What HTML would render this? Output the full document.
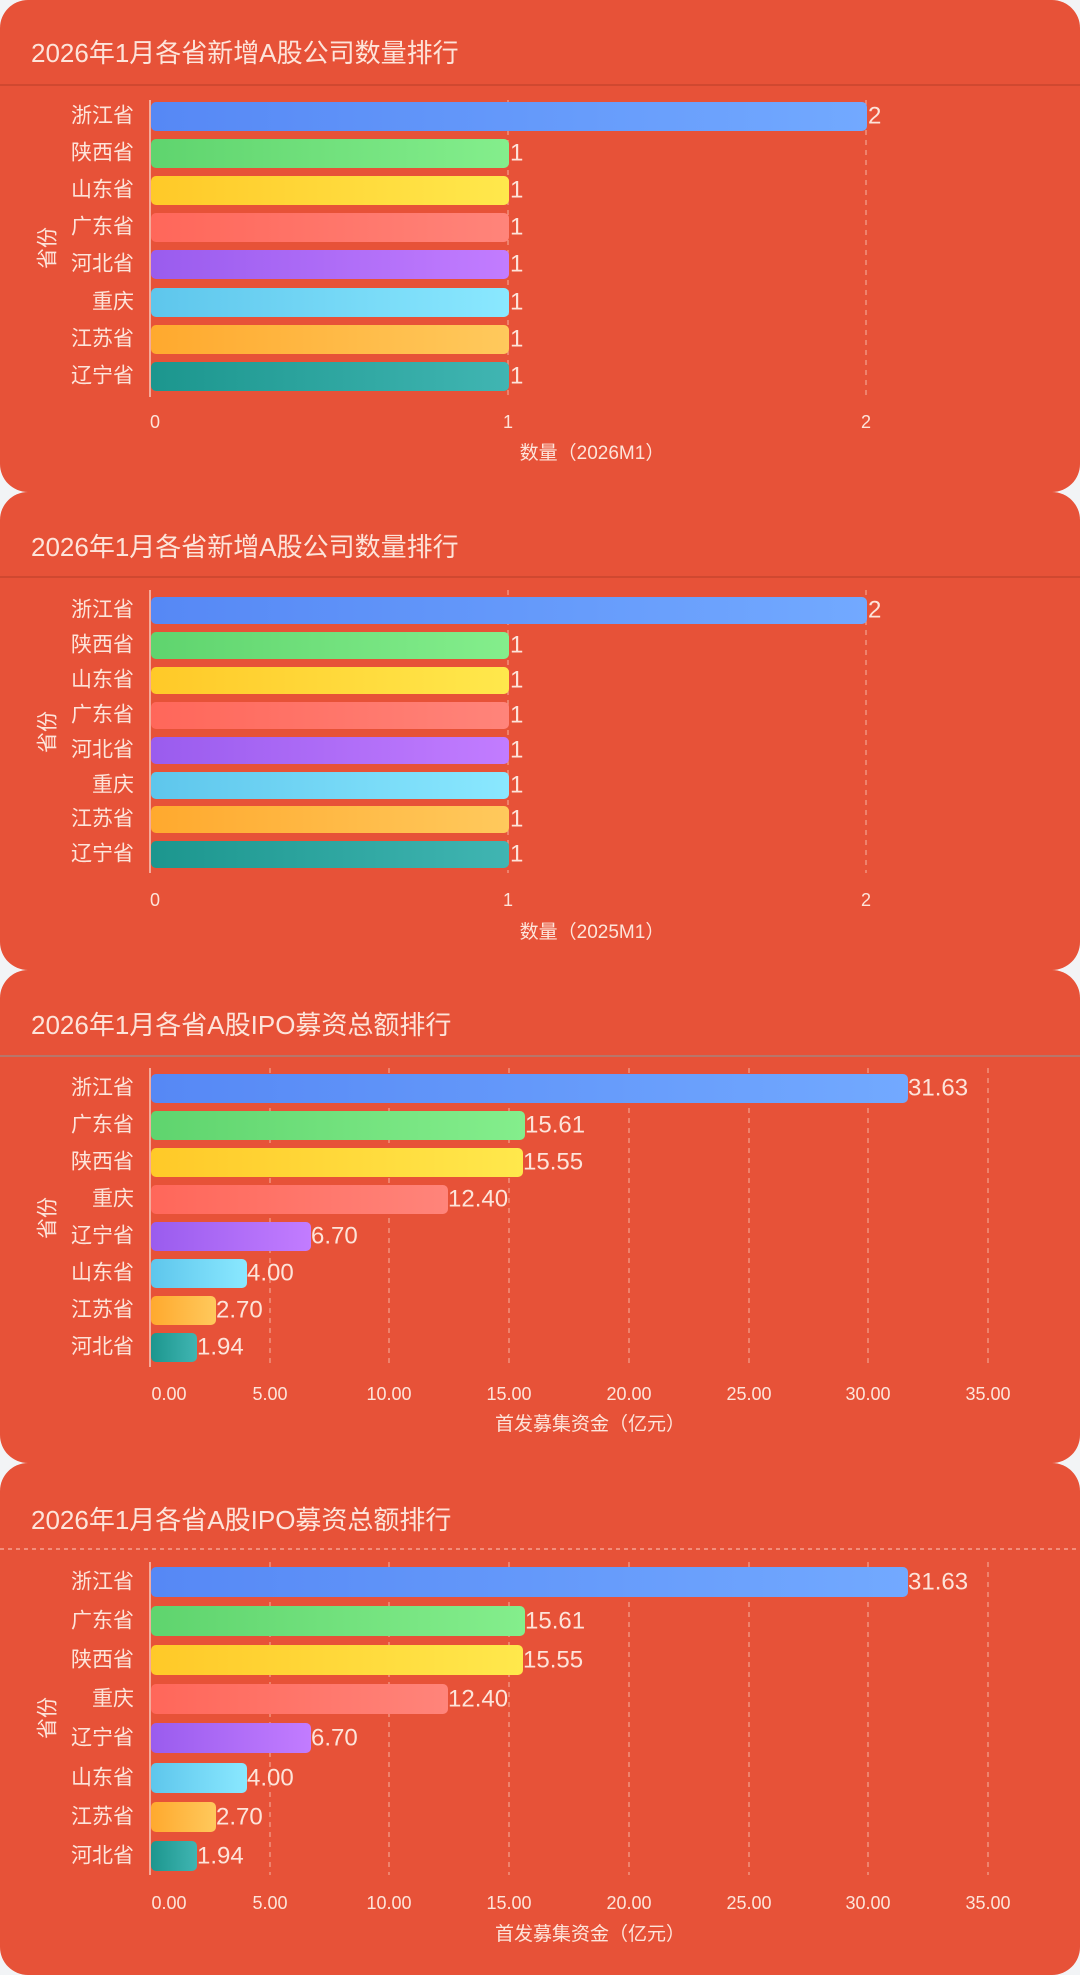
<!DOCTYPE html>
<html><head><meta charset="utf-8"><style>
html,body{margin:0;padding:0;background:#f2f4f6;}
svg{display:block}
text{font-family:"Liberation Sans","Noto Sans CJK SC",sans-serif;fill:#fde4da;}
.t{font-size:26px}
.c{font-size:21px;text-anchor:end;dominant-baseline:central}
.v{font-size:24px;dominant-baseline:central}
.k{font-size:18px;text-anchor:middle}
.n{font-size:19px;text-anchor:middle}
.g{stroke:rgba(255,225,215,0.55);stroke-width:1.2;stroke-dasharray:5 5}
.ax{stroke:rgba(255,230,220,0.8);stroke-width:1.5}
</style></head><body>
<svg width="1080" height="1975" viewBox="0 0 1080 1975" xmlns="http://www.w3.org/2000/svg">
<defs>
<linearGradient id="b1"><stop offset="0" stop-color="#5688f5"/><stop offset="1" stop-color="#72a9ff"/></linearGradient>
<linearGradient id="b2"><stop offset="0" stop-color="#5fd46e"/><stop offset="1" stop-color="#84ee8c"/></linearGradient>
<linearGradient id="b3"><stop offset="0" stop-color="#ffc928"/><stop offset="1" stop-color="#ffe84c"/></linearGradient>
<linearGradient id="b4"><stop offset="0" stop-color="#ff675a"/><stop offset="1" stop-color="#ff847a"/></linearGradient>
<linearGradient id="b5"><stop offset="0" stop-color="#9a5cee"/><stop offset="1" stop-color="#c27cff"/></linearGradient>
<linearGradient id="b6"><stop offset="0" stop-color="#5ec6ec"/><stop offset="1" stop-color="#8ae8ff"/></linearGradient>
<linearGradient id="b7"><stop offset="0" stop-color="#ffa92e"/><stop offset="1" stop-color="#ffc95c"/></linearGradient>
<linearGradient id="b8"><stop offset="0" stop-color="#1c968e"/><stop offset="1" stop-color="#40b5b2"/></linearGradient>
</defs>
<rect x="0" y="0" width="1080" height="1975" fill="#f2f4f6"/>
<!-- panels -->
<rect x="0" y="0" width="1080" height="492" rx="28" fill="#e75238"/>
<rect x="0" y="492" width="1080" height="478" rx="28" fill="#e75238"/>
<rect x="0" y="970" width="1080" height="493" rx="28" fill="#e75238"/>
<rect x="0" y="1463" width="1080" height="512" rx="28" fill="#e75238"/>

<!-- ===== Panel 1 ===== -->
<text class="t" x="31" y="62">2026年1月各省新增A股公司数量排行</text>
<line x1="0" y1="85" x2="1080" y2="85" stroke="#c9442e" stroke-width="1.5"/>
<line class="g" x1="508" y1="100" x2="508" y2="397"/>
<line class="g" x1="866" y1="100" x2="866" y2="397"/>
<line class="ax" x1="150" y1="100" x2="150" y2="397"/>
<rect x="151" y="102" width="716" height="29" rx="5" fill="url(#b1)"/>
<rect x="151" y="139" width="358" height="29" rx="5" fill="url(#b2)"/>
<rect x="151" y="176" width="358" height="29" rx="5" fill="url(#b3)"/>
<rect x="151" y="213" width="358" height="29" rx="5" fill="url(#b4)"/>
<rect x="151" y="250" width="358" height="29" rx="5" fill="url(#b5)"/>
<rect x="151" y="288" width="358" height="29" rx="5" fill="url(#b6)"/>
<rect x="151" y="325" width="358" height="29" rx="5" fill="url(#b7)"/>
<rect x="151" y="362" width="358" height="29" rx="5" fill="url(#b8)"/>
<text class="c" x="134" y="116">浙江省</text><text class="v" x="868" y="116">2</text>
<text class="c" x="134" y="153">陕西省</text><text class="v" x="510" y="153">1</text>
<text class="c" x="134" y="190">山东省</text><text class="v" x="510" y="190">1</text>
<text class="c" x="134" y="227">广东省</text><text class="v" x="510" y="227">1</text>
<text class="c" x="134" y="264">河北省</text><text class="v" x="510" y="264">1</text>
<text class="c" x="134" y="302">重庆</text><text class="v" x="510" y="302">1</text>
<text class="c" x="134" y="339">江苏省</text><text class="v" x="510" y="339">1</text>
<text class="c" x="134" y="376">辽宁省</text><text class="v" x="510" y="376">1</text>
<text class="c" x="0" y="0" transform="translate(48,248) rotate(-90)" style="text-anchor:middle">省份</text>
<text class="k" x="155" y="428">0</text><text class="k" x="508" y="428">1</text><text class="k" x="866" y="428">2</text>
<text class="n" x="592" y="459">数量（2026M1）</text>

<!-- ===== Panel 2 ===== -->
<text class="t" x="31" y="556">2026年1月各省新增A股公司数量排行</text>
<line x1="0" y1="577" x2="1080" y2="577" stroke="#c9442e" stroke-width="1.5"/>
<line class="g" x1="508" y1="590" x2="508" y2="873"/>
<line class="g" x1="866" y1="590" x2="866" y2="873"/>
<line class="ax" x1="150" y1="590" x2="150" y2="873"/>
<rect x="151" y="597" width="716" height="27" rx="5" fill="url(#b1)"/>
<rect x="151" y="632" width="358" height="27" rx="5" fill="url(#b2)"/>
<rect x="151" y="667" width="358" height="27" rx="5" fill="url(#b3)"/>
<rect x="151" y="702" width="358" height="27" rx="5" fill="url(#b4)"/>
<rect x="151" y="737" width="358" height="27" rx="5" fill="url(#b5)"/>
<rect x="151" y="772" width="358" height="27" rx="5" fill="url(#b6)"/>
<rect x="151" y="806" width="358" height="27" rx="5" fill="url(#b7)"/>
<rect x="151" y="841" width="358" height="27" rx="5" fill="url(#b8)"/>
<text class="c" x="134" y="610">浙江省</text><text class="v" x="868" y="610">2</text>
<text class="c" x="134" y="645">陕西省</text><text class="v" x="510" y="645">1</text>
<text class="c" x="134" y="680">山东省</text><text class="v" x="510" y="680">1</text>
<text class="c" x="134" y="715">广东省</text><text class="v" x="510" y="715">1</text>
<text class="c" x="134" y="750">河北省</text><text class="v" x="510" y="750">1</text>
<text class="c" x="134" y="785">重庆</text><text class="v" x="510" y="785">1</text>
<text class="c" x="134" y="819">江苏省</text><text class="v" x="510" y="819">1</text>
<text class="c" x="134" y="854">辽宁省</text><text class="v" x="510" y="854">1</text>
<text class="c" x="0" y="0" transform="translate(48,732) rotate(-90)" style="text-anchor:middle">省份</text>
<text class="k" x="155" y="906">0</text><text class="k" x="508" y="906">1</text><text class="k" x="866" y="906">2</text>
<text class="n" x="592" y="938">数量（2025M1）</text>

<!-- ===== Panel 3 ===== -->
<text class="t" x="31" y="1034">2026年1月各省A股IPO募资总额排行</text>
<line x1="0" y1="1056" x2="1080" y2="1056" stroke="#b8766a" stroke-width="2"/>
<line class="g" x1="270" y1="1068" x2="270" y2="1367"/>
<line class="g" x1="389" y1="1068" x2="389" y2="1367"/>
<line class="g" x1="509" y1="1068" x2="509" y2="1367"/>
<line class="g" x1="629" y1="1068" x2="629" y2="1367"/>
<line class="g" x1="749" y1="1068" x2="749" y2="1367"/>
<line class="g" x1="868" y1="1068" x2="868" y2="1367"/>
<line class="g" x1="988" y1="1068" x2="988" y2="1367"/>
<line class="ax" x1="150" y1="1068" x2="150" y2="1367"/>
<rect x="151" y="1074" width="757" height="29" rx="5" fill="url(#b1)"/>
<rect x="151" y="1111" width="374" height="29" rx="5" fill="url(#b2)"/>
<rect x="151" y="1148" width="372" height="29" rx="5" fill="url(#b3)"/>
<rect x="151" y="1185" width="297" height="29" rx="5" fill="url(#b4)"/>
<rect x="151" y="1222" width="160" height="29" rx="5" fill="url(#b5)"/>
<rect x="151" y="1259" width="96" height="29" rx="5" fill="url(#b6)"/>
<rect x="151" y="1296" width="65" height="29" rx="5" fill="url(#b7)"/>
<rect x="151" y="1333" width="46" height="29" rx="5" fill="url(#b8)"/>
<text class="c" x="134" y="1088">浙江省</text><text class="v" x="908" y="1088">31.63</text>
<text class="c" x="134" y="1125">广东省</text><text class="v" x="525" y="1125">15.61</text>
<text class="c" x="134" y="1162">陕西省</text><text class="v" x="523" y="1162">15.55</text>
<text class="c" x="134" y="1199">重庆</text><text class="v" x="448" y="1199">12.40</text>
<text class="c" x="134" y="1236">辽宁省</text><text class="v" x="311" y="1236">6.70</text>
<text class="c" x="134" y="1273">山东省</text><text class="v" x="247" y="1273">4.00</text>
<text class="c" x="134" y="1310">江苏省</text><text class="v" x="216" y="1310">2.70</text>
<text class="c" x="134" y="1347">河北省</text><text class="v" x="197" y="1347">1.94</text>
<text class="c" x="0" y="0" transform="translate(48,1218) rotate(-90)" style="text-anchor:middle">省份</text>
<text class="k" x="169" y="1400">0.00</text><text class="k" x="270" y="1400">5.00</text><text class="k" x="389" y="1400">10.00</text><text class="k" x="509" y="1400">15.00</text><text class="k" x="629" y="1400">20.00</text><text class="k" x="749" y="1400">25.00</text><text class="k" x="868" y="1400">30.00</text><text class="k" x="988" y="1400">35.00</text>
<text class="n" x="590" y="1430">首发募集资金（亿元）</text>

<!-- ===== Panel 4 ===== -->
<text class="t" x="31" y="1529">2026年1月各省A股IPO募资总额排行</text>
<line x1="0" y1="1549" x2="1080" y2="1549" stroke="rgba(255,220,210,0.7)" stroke-width="1.2" stroke-dasharray="4 4"/>
<line class="g" x1="270" y1="1562" x2="270" y2="1875"/>
<line class="g" x1="389" y1="1562" x2="389" y2="1875"/>
<line class="g" x1="509" y1="1562" x2="509" y2="1875"/>
<line class="g" x1="629" y1="1562" x2="629" y2="1875"/>
<line class="g" x1="749" y1="1562" x2="749" y2="1875"/>
<line class="g" x1="868" y1="1562" x2="868" y2="1875"/>
<line class="g" x1="988" y1="1562" x2="988" y2="1875"/>
<line class="ax" x1="150" y1="1562" x2="150" y2="1875"/>
<rect x="151" y="1567" width="757" height="30" rx="5" fill="url(#b1)"/>
<rect x="151" y="1606" width="374" height="30" rx="5" fill="url(#b2)"/>
<rect x="151" y="1645" width="372" height="30" rx="5" fill="url(#b3)"/>
<rect x="151" y="1684" width="297" height="30" rx="5" fill="url(#b4)"/>
<rect x="151" y="1723" width="160" height="30" rx="5" fill="url(#b5)"/>
<rect x="151" y="1763" width="96" height="30" rx="5" fill="url(#b6)"/>
<rect x="151" y="1802" width="65" height="30" rx="5" fill="url(#b7)"/>
<rect x="151" y="1841" width="46" height="30" rx="5" fill="url(#b8)"/>
<text class="c" x="134" y="1582">浙江省</text><text class="v" x="908" y="1582">31.63</text>
<text class="c" x="134" y="1621">广东省</text><text class="v" x="525" y="1621">15.61</text>
<text class="c" x="134" y="1660">陕西省</text><text class="v" x="523" y="1660">15.55</text>
<text class="c" x="134" y="1699">重庆</text><text class="v" x="448" y="1699">12.40</text>
<text class="c" x="134" y="1738">辽宁省</text><text class="v" x="311" y="1738">6.70</text>
<text class="c" x="134" y="1778">山东省</text><text class="v" x="247" y="1778">4.00</text>
<text class="c" x="134" y="1817">江苏省</text><text class="v" x="216" y="1817">2.70</text>
<text class="c" x="134" y="1856">河北省</text><text class="v" x="197" y="1856">1.94</text>
<text class="c" x="0" y="0" transform="translate(48,1718) rotate(-90)" style="text-anchor:middle">省份</text>
<text class="k" x="169" y="1909">0.00</text><text class="k" x="270" y="1909">5.00</text><text class="k" x="389" y="1909">10.00</text><text class="k" x="509" y="1909">15.00</text><text class="k" x="629" y="1909">20.00</text><text class="k" x="749" y="1909">25.00</text><text class="k" x="868" y="1909">30.00</text><text class="k" x="988" y="1909">35.00</text>
<text class="n" x="590" y="1940">首发募集资金（亿元）</text>
</svg>
</body></html>
